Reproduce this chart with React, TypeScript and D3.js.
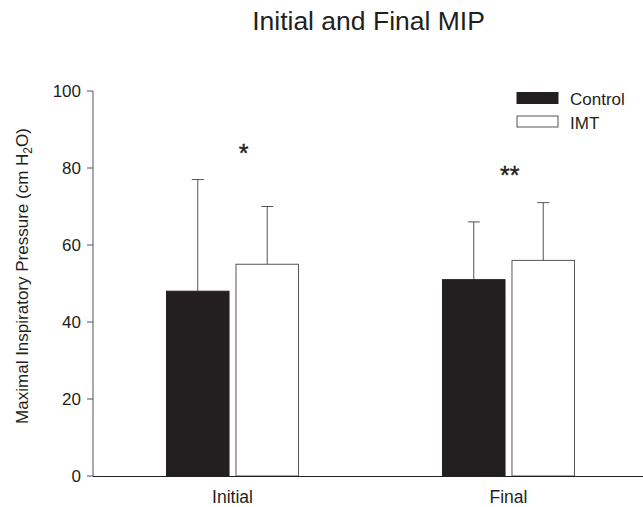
import React from "react";
import * as d3 from "d3";

const categories = ["Initial", "Final"];
const seriesNames = ["Control", "IMT"];
const controlMeans = [48, 51];
const controlErrTop = [77, 66];
const imtMeans = [55, 56];
const imtErrTop = [70, 71];
const yTicks = [0, 20, 40, 60, 80, 100];
const significance = ["*", "**"];

const W = 643;
const H = 507;
const FONT = "Arial, 'Liberation Sans', Helvetica, sans-serif";

export default function App() {
  const y = d3.scaleLinear().domain([0, 100]).range([476, 91]);
  const x = d3.scaleBand<string>().domain(categories).range([94.5, 646.5]).paddingInner(0).paddingOuter(0);
  const groupW = 132;
  const inner = d3.scaleBand<string>().domain(seriesNames).range([0, groupW]).paddingInner(0.1);
  const series = [
    { name: "Control", means: controlMeans, err: controlErrTop, fill: "#231f20", stroke: "#231f20" },
    { name: "IMT", means: imtMeans, err: imtErrTop, fill: "#ffffff", stroke: "#555555" },
  ];
  const axisX = 93;
  const groupStart = (c: string) => (x(c) as number) + x.bandwidth() / 2 - groupW / 2;

  return (
    <svg width={W} height={H} style={{ position: "absolute", left: 0, top: 0 }} fontFamily={FONT}>
      <rect width={W} height={H} fill="#fff" />
      <text x={368.5} y={30} textAnchor="middle" fontSize={26.5} fill="#231f20">
        Initial and Final MIP
      </text>
      {/* bars */}
      {categories.map((c, ci) =>
        series.map((s) => {
          const bx = groupStart(c) + (inner(s.name) as number);
          const bw = inner.bandwidth();
          const cx = bx + bw / 2;
          return (
            <g key={c + s.name}>
              <line x1={cx} x2={cx} y1={y(s.means[ci])} y2={y(s.err[ci])} stroke="#555" strokeWidth={1} />
              <line x1={cx - 6} x2={cx + 6} y1={y(s.err[ci])} y2={y(s.err[ci])} stroke="#555" strokeWidth={1} />
              <rect x={bx} y={y(s.means[ci])} width={bw} height={y(0) - y(s.means[ci])} fill={s.fill} stroke={s.stroke} strokeWidth={1} />
            </g>
          );
        })
      )}
      {/* significance */}
      {categories.map((c, ci) => {
        const bx = groupStart(c) + (inner("IMT") as number) + inner.bandwidth() / 2;
        const ty = ci === 0 ? 162 : 184;
        const tx = ci === 0 ? bx - 23.5 : bx - 33.5;
        return (
          <text key={c} x={tx} y={ty} textAnchor="middle" fontSize={25} fill="#231f20" stroke="#231f20" strokeWidth={0.4}>
            {significance[ci]}
          </text>
        );
      })}
      {/* axes */}
      <line x1={axisX} x2={axisX} y1={y(100)} y2={y(0)} stroke="#555" strokeWidth={1} />
      <line x1={axisX} x2={W} y1={y(0) + 0.5} y2={y(0) + 0.5} stroke="#231f20" strokeWidth={1.2} />
      {yTicks.map((t) => (
        <g key={t}>
          <line x1={axisX - 6} x2={axisX} y1={y(t)} y2={y(t)} stroke="#555" strokeWidth={1} />
          <text x={81} y={y(t) + 6} textAnchor="end" fontSize={17} fill="#231f20">
            {t}
          </text>
        </g>
      ))}
      {categories.map((c) => (
        <text key={c} x={(x(c) as number) + x.bandwidth() / 2} y={503} textAnchor="middle" fontSize={17.5} fill="#231f20">
          {c}
        </text>
      ))}
      <text transform={`translate(28,276) rotate(-90)`} textAnchor="middle" fontSize={17} fill="#231f20">
        Maximal Inspiratory Pressure (cm H<tspan dy={4} fontSize={12}>2</tspan><tspan dy={-4}>O)</tspan>
      </text>
      {/* legend */}
      {series.map((s, i) => (
        <g key={s.name} transform={`translate(517,${92.5 + i * 23.5})`}>
          <rect x={0} y={0} width={41} height={11} fill={s.fill} stroke={s.stroke} strokeWidth={1} />
          <text x={53} y={12.5} fontSize={17} fill="#231f20">
            {s.name}
          </text>
        </g>
      ))}
    </svg>
  );
}
